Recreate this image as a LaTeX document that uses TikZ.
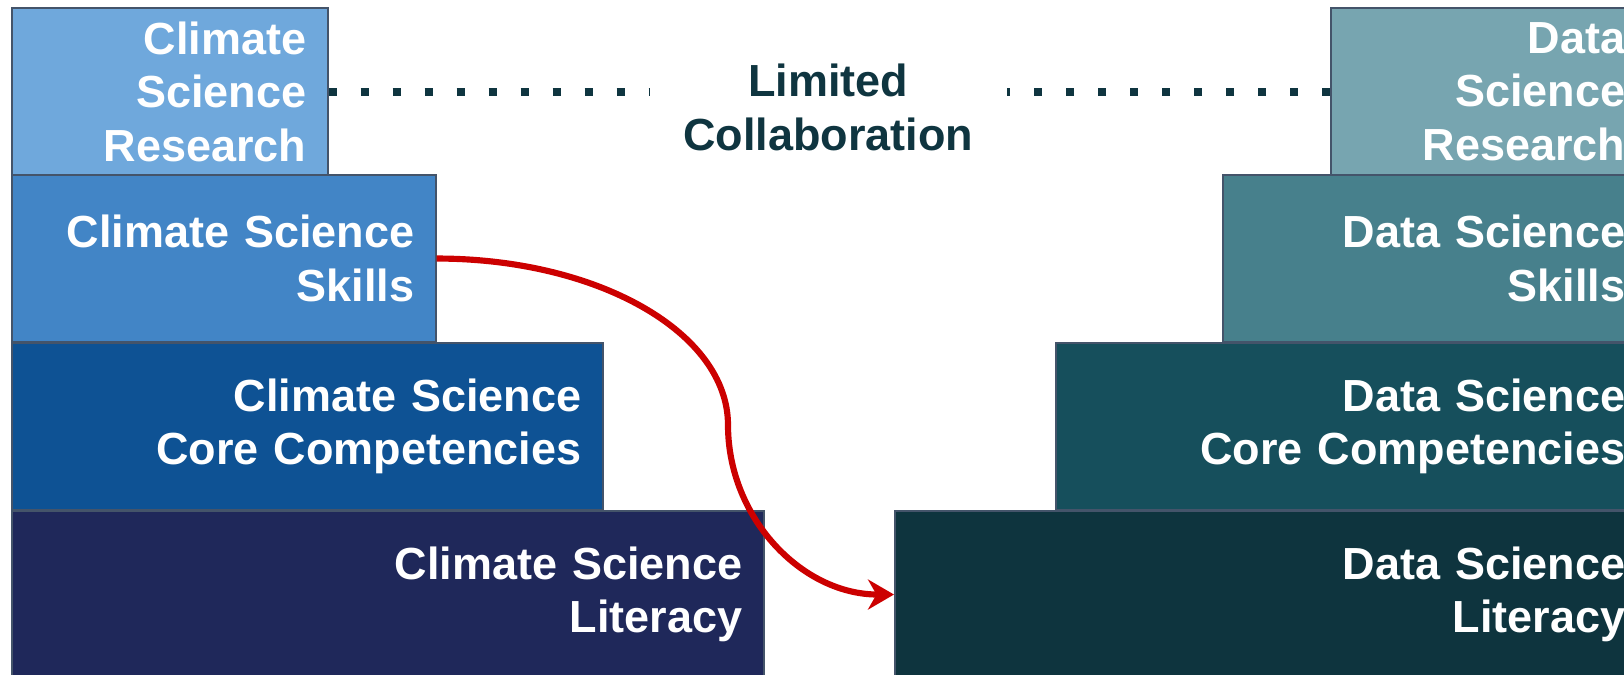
\documentclass[tikz,border=0pt]{standalone}
\usepackage{fontspec}
\setmainfont{Liberation Sans}
\usetikzlibrary{arrows.meta, positioning}
\definecolor{CSres}{RGB}{111,168,220}
\definecolor{CSskl}{RGB}{66,133,198}
\definecolor{CScore}{RGB}{14,82,148}
\definecolor{CSlit}{RGB}{31,40,90}
\definecolor{DSres}{RGB}{119,165,176}
\definecolor{DSskl}{RGB}{71,128,140}
\definecolor{DScore}{RGB}{22,79,92}
\definecolor{DSlit}{RGB}{14,52,62}
\definecolor{Rim}{RGB}{68,84,106}
\definecolor{Ink}{RGB}{15,53,64}
\definecolor{Flowred}{RGB}{204,0,0}

\begin{document}
\begin{tikzpicture}[
  x=1cm, y=1cm,
  font=\fontsize{12.8}{15.2}\selectfont\bfseries,
  tier/.style={draw=Rim, line width=0.45pt, anchor=north west, text=white,
               align=right, inner xsep=0.215cm, inner ysep=0pt,
               minimum height=1.675cm},
  collab/.style={text=Ink, align=center, inner xsep=0.33cm},
  dots/.style={draw=Ink, line width=0.08cm, dash pattern=on 0.08cm off 0.24cm},
  flow/.style={-{Stealth[length=2.6mm, width=3mm]}, draw=Flowred, line width=1.75pt}
]
\useasboundingbox (0,0) rectangle (16.24,6.75);
\clip (0,0) rectangle (16.24,6.75);

%% ——— Pila izquierda: Climate Science ———
\node[tier, fill=CSlit,  text width=7.09cm] (cslit)  at (0.11, 1.65) {Climate Science\\Literacy};
\node[tier, fill=CScore, text width=5.48cm] (cscore) at (0.11, 3.33) {Climate Science\\Core Competencies};
\node[tier, fill=CSskl,  text width=3.81cm] (csskl)  at (0.11, 5.01) {Climate Science\\Skills};
\node[tier, fill=CSres,  text width=2.73cm] (csres)  at (0.11, 6.68) {Climate\\Science\\Research};

%% ——— Pila derecha: Data Science ———
\node[tier, fill=DSlit,  text width=7.09cm] (dslit)  at ( 8.94, 1.65) {Data Science\\Literacy};
\node[tier, fill=DScore, text width=5.48cm] (dscore) at (10.55, 3.33) {Data Science\\Core Competencies};
\node[tier, fill=DSskl,  text width=3.81cm] (dsskl)  at (12.22, 5.01) {Data Science\\Skills};
\node[tier, fill=DSres,  text width=2.73cm] (dsres)  at (13.30, 6.68) {Data\\Science\\Research};

%% ——— Colaboración limitada ———
\node[collab] (collab) at (8.28, 5.675) {Limited\\Collaboration};
\draw[dots] (csres.east) -- (csres.east -| collab.west);
\draw[dots] (dsres.west) -- (dsres.west -| collab.east);

%% ——— Flecha Skills → Literacy ———
\coordinate (bend) at (7.28, 2.50);
\draw[flow] (csskl.east) .. controls +(1.62,0) and +(0,0.92) .. (bend)
            .. controls +(0,-0.93) and +(-0.92,0) .. (dslit.west);

\end{tikzpicture}
\end{document}
